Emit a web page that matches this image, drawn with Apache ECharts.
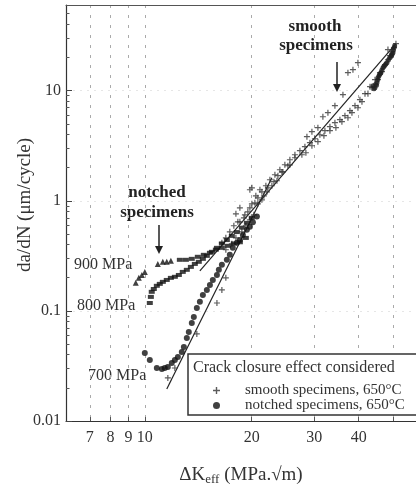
<!DOCTYPE html>
<html>
<head>
<meta charset="utf-8">
<script src="https://cdn.jsdelivr.net/npm/echarts@6/dist/echarts.min.js"></script>
<style>
  html, body { margin: 0; padding: 0; background: #fff; }
  #chart { width: 416px; height: 492px; }
</style>
</head>
<body>
<div id="chart"></div>
<script>
// ticks
const xTickLabels = [7, 8, 9, 10, 20, 30, 40];
const xTicks = [7, 8, 9, 10, 20, 30, 40, 50];
const yTickLabels = [0.01, 0.1, 1, 10];
const yMinorTicks = [0.02, 0.03, 0.04, 0.05, 0.06, 0.07, 0.08, 0.09,
  0.2, 0.3, 0.4, 0.5, 0.6, 0.7, 0.8, 0.9,
  2, 3, 4, 5, 6, 7, 8, 9, 20, 30, 40, 50];

// smooth specimens (+)
const smoothLow = [[11.61, 0.0246], [12.15, 0.0303], [14.01, 0.0618], [15.96, 0.118], [16.48, 0.155], [16.91, 0.1995]];
const smoothBand = [
  [16.48, 0.415], [16.91, 0.461], [17.35, 0.523], [17.81, 0.593], [18.28, 0.644],
  [16.91, 0.359], [17.58, 0.407], [18.05, 0.461], [18.76, 0.523], [19.25, 0.593],
  [19.76, 0.672], [20.28, 0.746], [19.50, 0.794], [20.02, 0.939], [19.01, 0.70],
  [18.52, 0.644], [19.13, 0.746], [19.76, 0.864], [20.41, 0.959], [20.81, 1.065],
  [21.36, 1.207], [21.92, 1.369], [22.50, 1.552], [23.24, 1.723], [24.00, 1.914],
  [24.79, 2.125], [25.61, 2.36], [26.46, 2.62], [27.33, 2.85], [28.23, 3.10],
  [29.16, 3.37], [30.12, 3.66], [31.11, 3.98], [32.14, 4.33], [33.20, 4.71],
  [34.29, 5.12], [35.42, 5.45], [36.59, 5.93], [37.80, 6.58], [39.05, 7.31],
  [40.33, 8.28], [41.67, 9.39], [43.05, 10.87], [44.46, 12.59], [45.92, 14.58],
  [47.43, 17.22], [48.99, 20.8], [50.28, 24.6], [50.93, 26.7],
  [20.54, 1.11], [21.09, 1.26], [21.64, 1.11], [22.21, 1.31], [23.09, 1.49],
  [23.70, 1.69], [24.32, 1.83], [25.28, 2.08],
  [20.81, 0.939], [21.36, 1.02], [22.07, 1.207], [22.79, 1.369], [23.55, 1.52],
  [24.48, 1.83], [25.61, 2.12], [26.46, 2.46],
  [27.68, 2.62], [28.41, 2.73], [29.54, 3.16], [30.71, 3.44], [31.93, 3.90],
  [33.20, 4.33], [34.51, 4.61], [35.88, 5.23], [37.31, 5.68], [38.29, 6.31],
  [39.81, 7.0], [40.86, 7.94], [42.48, 9.39], [43.6, 10.65], [45.33, 12.59],
  [46.52, 14.9], [48.36, 19.1], [49.64, 22.6]
];
const smoothUpper = [
  [20.02, 1.31], [19.76, 1.26], [18.52, 0.864], [18.05, 0.762],
  [28.60, 3.82], [29.54, 4.24], [30.71, 4.61], [31.72, 5.80], [32.77, 6.31],
  [34.29, 7.31], [36.12, 9.20], [37.31, 14.58], [38.54, 15.52], [39.81, 17.98], [48.36, 23.6]
];

// notched specimens
const notched900 = [[9.43, 0.18], [9.62, 0.20], [9.81, 0.212], [10.0, 0.226], [10.88, 0.267],
  [11.24, 0.279], [11.53, 0.279], [11.84, 0.285]];
const notched800 = [[10.33, 0.118], [10.40, 0.134], [10.46, 0.149], [10.60, 0.158], [10.81, 0.169],
  [11.02, 0.176], [11.24, 0.1835], [11.53, 0.191], [11.84, 0.1995], [12.15, 0.204], [12.47, 0.212],
  [12.79, 0.226], [13.13, 0.236], [13.48, 0.251], [13.83, 0.267], [14.19, 0.279], [14.57, 0.297],
  [14.95, 0.316], [15.45, 0.344], [15.96, 0.374], [16.48, 0.41], [17.02, 0.44], [17.58, 0.48],
  [18.16, 0.52], [18.76, 0.57], [19.38, 0.63], [20.0, 0.70],
  [12.55, 0.291], [13.05, 0.291], [13.56, 0.297], [14.1, 0.31], [14.66, 0.323], [15.25, 0.337],
  [15.85, 0.36], [16.48, 0.374], [17.14, 0.39], [17.8, 0.41], [18.52, 0.42], [19.25, 0.46]];
const notched700 = [[10.0, 0.0415], [10.33, 0.0359], [10.81, 0.0303], [11.17, 0.0297], [11.38, 0.0303],
  [11.61, 0.031], [11.91, 0.0337], [12.15, 0.0359], [12.39, 0.0382], [12.71, 0.0424], [12.88, 0.0471],
  [13.13, 0.0568], [13.30, 0.0644], [13.56, 0.0778], [13.74, 0.0882], [14.01, 0.1065], [14.29, 0.121],
  [14.57, 0.1397], [14.95, 0.155], [15.25, 0.172], [15.54, 0.191], [15.96, 0.212], [16.16, 0.236],
  [16.48, 0.262], [17.02, 0.291], [17.35, 0.323], [17.69, 0.374], [18.16, 0.415], [18.52, 0.44],
  [18.88, 0.49], [19.38, 0.545], [19.76, 0.58], [20.15, 0.64], [20.68, 0.72]];
const notchedHigh = [[43.89, 11.1], [44.17, 10.4], [44.46, 10.65], [44.6, 11.4], [44.9, 11.2],
  [45.04, 11.83], [45.2, 12.5], [45.33, 13.13], [45.6, 13.6], [45.8, 14.0], [46.0, 14.3],
  [46.22, 14.58], [46.5, 15.4], [46.82, 16.18], [47.1, 16.6], [47.4, 17.0], [47.7, 17.5],
  [48.05, 17.98], [48.5, 19.0], [48.99, 19.95], [49.3, 20.5], [49.5, 21.0], [49.7, 21.5],
  [49.95, 22.1], [50.1, 23.3], [50.28, 24.6], [50.5, 25.6]];

// fitted lines
const fitSteep = [[11.53, 0.0195], [22.79, 1.62]];
const fitParis = [[14.29, 0.231], [50.93, 26.7]];

const SERIF = '"Liberation Serif", "DejaVu Serif", serif';
const crossIcon = 'path://M4,0H6V4H10V6H6V10H4V6H0V4H4Z';
const SMOOTH = 'smooth specimens, 650°C';
const NOTCHED = 'notched specimens, 650°C';

let myChart = echarts.init(document.getElementById('chart'));
myChart.setOption({
  backgroundColor: '#fff',
  animation: false,
  grid: { left: 66, right: 0, top: 5, bottom: 71, outerBoundsMode: 'none' },
  legend: {
    data: [{ name: SMOOTH, icon: crossIcon }, { name: NOTCHED, icon: 'circle' }],
    orient: 'vertical',
    left: 208,
    top: 378,
    itemWidth: 7,
    itemHeight: 7,
    itemGap: 0,
    selectedMode: false,
    textStyle: { fontFamily: SERIF, fontSize: 15, color: '#333', lineHeight: 14, padding: [0, 0, 0, 20] },
    z: 20
  },
  xAxis: [
    {
      type: 'log',
      min: 6,
      max: 58,
      name: '{a|ΔK}{s|eff}{a| (MPa.√m)}',
      nameLocation: 'middle',
      nameGap: 43,
      nameMoveOverlap: false,
      nameTextStyle: {
        rich: {
          a: { fontFamily: SERIF, fontSize: 19, color: '#333' },
          s: { fontFamily: SERIF, fontSize: 13, color: '#333', verticalAlign: 'bottom', padding: [9, 0, 0, 0] }
        }
      },
      axisLine: { lineStyle: { color: '#333', width: 1.2 } },
      axisTick: { inside: true, length: 4, customValues: xTicks, lineStyle: { color: '#555' } },
      axisLabel: { customValues: xTickLabels, fontFamily: SERIF, fontSize: 16, color: '#333', margin: 9 },
      splitLine: { show: true, lineStyle: { color: '#aaa', type: [3, 7], width: 1 } }
    },
    {
      type: 'log',
      min: 6,
      max: 58,
      position: 'top',
      axisLine: { show: true, lineStyle: { color: '#555', width: 1 } },
      axisTick: { show: false },
      axisLabel: { show: false },
      splitLine: { show: false }
    }
  ],
  yAxis: [
    {
      type: 'log',
      min: 0.01,
      max: 60,
      name: 'da/dN (μm/cycle)',
      nameLocation: 'middle',
      nameGap: 31,
      nameMoveOverlap: false,
      nameTextStyle: { fontFamily: SERIF, fontSize: 19, color: '#333', padding: [0, 0, 0, 16] },
      axisLine: { lineStyle: { color: '#333', width: 1.2 } },
      axisTick: { inside: true, length: 6, customValues: yTickLabels, lineStyle: { color: '#444' } },
      axisLabel: { customValues: yTickLabels, fontFamily: SERIF, fontSize: 16, color: '#333', margin: 5 },
      splitLine: { show: true, lineStyle: { color: '#e6e6e6', type: [2, 5], width: 1 } }
    },
    {
      type: 'log',
      min: 0.01,
      max: 60,
      position: 'left',
      axisLine: { show: false },
      axisTick: { inside: true, length: 3.5, customValues: yMinorTicks, lineStyle: { color: '#555' } },
      axisLabel: { show: false },
      splitLine: { show: false }
    }
  ],
  series: [
    {
      name: 'fit steep', type: 'line', data: fitSteep, symbol: 'none',
      lineStyle: { color: '#222', width: 1.2 }, z: 3
    },
    {
      name: 'fit paris', type: 'line', data: fitParis, symbol: 'none',
      lineStyle: { color: '#222', width: 1.2 }, z: 3
    },
    {
      name: SMOOTH, type: 'scatter', symbol: crossIcon, symbolSize: 6,
      data: smoothLow.concat(smoothBand, smoothUpper),
      itemStyle: { color: '#333' }, z: 4
    },
    {
      name: '900 MPa', type: 'scatter', symbol: 'triangle', symbolSize: 6,
      data: notched900, itemStyle: { color: '#111' }, z: 5
    },
    {
      name: '800 MPa', type: 'scatter', symbol: 'rect', symbolSize: [6, 4],
      data: notched800, itemStyle: { color: '#111' }, z: 5
    },
    {
      name: NOTCHED, type: 'scatter', symbol: 'circle', symbolSize: 6,
      data: notched700, itemStyle: { color: '#111' }, z: 5
    },
    {
      name: NOTCHED, type: 'scatter', symbol: 'circle', symbolSize: 5,
      data: notchedHigh, itemStyle: { color: '#222' }, z: 5
    }
  ],
  graphic: [
    // legend box
    { type: 'rect', shape: { x: 188, y: 354, width: 240, height: 61 }, style: { fill: '#fff', stroke: '#333', lineWidth: 1.5 }, z: 10 },
    { type: 'text', left: 193, top: 360, style: { text: 'Crack closure effect considered', font: '16px ' + SERIF, fill: '#333' }, z: 11 },
    // stress labels
    { type: 'text', left: 74, top: 257, style: { text: '900 MPa', font: '16px ' + SERIF, fill: '#333' } },
    { type: 'text', left: 77, top: 298, style: { text: '800 MPa', font: '16px ' + SERIF, fill: '#333' } },
    { type: 'text', left: 88, top: 368, style: { text: '700 MPa', font: '16px ' + SERIF, fill: '#333' } },
    // notched annotation
    { type: 'text', x: 157, y: 193, style: { text: 'notched', font: 'bold 17px ' + SERIF, fill: '#222', align: 'center', verticalAlign: 'middle' } },
    { type: 'text', x: 157, y: 213, style: { text: 'specimens', font: 'bold 17px ' + SERIF, fill: '#222', align: 'center', verticalAlign: 'middle' } },
    { type: 'line', shape: { x1: 159, y1: 225, x2: 159, y2: 248 }, style: { stroke: '#222', lineWidth: 1.5 } },
    { type: 'polygon', shape: { points: [[155, 246], [163, 246], [159, 254]] }, style: { fill: '#222' } },
    // smooth annotation
    { type: 'text', x: 315, y: 27, style: { text: 'smooth', font: 'bold 17px ' + SERIF, fill: '#222', align: 'center', verticalAlign: 'middle' } },
    { type: 'text', x: 316, y: 46, style: { text: 'specimens', font: 'bold 17px ' + SERIF, fill: '#222', align: 'center', verticalAlign: 'middle' } },
    { type: 'line', shape: { x1: 337, y1: 62, x2: 337, y2: 86 }, style: { stroke: '#222', lineWidth: 1.5 } },
    { type: 'polygon', shape: { points: [[333, 84], [341, 84], [337, 92]] }, style: { fill: '#222' } }
  ]
});
</script>
</body>
</html>
